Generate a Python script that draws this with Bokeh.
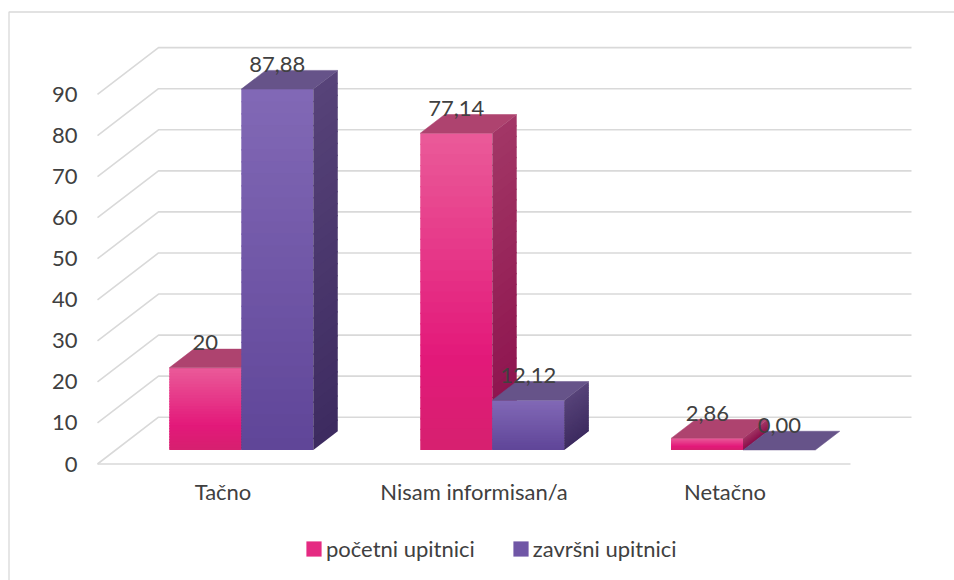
from bokeh.plotting import figure
from bokeh.models import Range1d, Legend, LegendItem
from bokeh.embed import file_html
from bokeh.resources import INLINE
from bokeh.core.properties import value

# ---------------- data ----------------
categories = ["Tačno", "Nisam informisan/a", "Netačno"]
series_names = ["početni upitnici", "završni upitnici"]
pocetni = [20.0, 77.14, 2.86]
zavrsni = [87.88, 12.12, 0.00]
pocetni_labels = ["20", "77,14", "2,86"]
zavrsni_labels = ["87,88", "12,12", "0,00"]
y_ticks = [0, 10, 20, 30, 40, 50, 60, 70, 80, 90]

# ---------------- styling / projection ----------------
FONT = "Lato"
TXT = "#404040"
GRID = "#d9d9d9"
PX_X = 251.0           # px per category (front plane)
PX_V = 4.106           # px per value unit
X0_PAGE, Y0_PAGE = 97.0, 463.5   # page position of (x=0, v=0) at the front
DX = 61.0 / PX_X       # x shift (category units) for full depth
DY = 46.8 / PX_V       # y shift (value units) for full depth
Z0, Z1 = 0.30, 0.70    # bar depth position
BW = 0.287             # bar width (category units)
NSTRIP = 30
OVL = 1.2 / PX_V       # strip overlap to hide seams

def hex2rgb(h):
    h = h.lstrip("#")
    return [int(h[i:i + 2], 16) for i in (0, 2, 4)]

def grad(stops, t):
    for (p0, c0), (p1, c1) in zip(stops[:-1], stops[1:]):
        if t <= p1:
            f = (t - p0) / (p1 - p0) if p1 > p0 else 0
            a, b = hex2rgb(c0), hex2rgb(c1)
            return "#%02x%02x%02x" % tuple(int(round(a[k] + (b[k] - a[k]) * f)) for k in range(3))
    return stops[-1][1]

styles = [
    dict(front=[(0, "#ea5b99"), (0.7, "#e3197a"), (1, "#d6206f")],
         side=[(0, "#a23766"), (1, "#8b0f4b")], top="#ae436f", offset=-1),
    dict(front=[(0, "#8269b6"), (1, "#5f4598")],
         side=[(0, "#574379"), (1, "#3d2b60")], top="#665389", offset=0),
]

def xd(page_x):
    return (page_x - X0_PAGE) / PX_X

def vd(page_y):
    return (Y0_PAGE - page_y) / PX_V

# canvas covers the page (0, 0) .. (954, 580); frame = whole canvas
p = figure(width=954, height=580, output_backend="svg", toolbar_location=None,
           min_border=0, x_axis_location=None, y_axis_location=None,
           x_range=Range1d(xd(0), xd(954)), y_range=Range1d(vd(580), vd(0)))
p.outline_line_color = None
p.xgrid.visible = False
p.ygrid.visible = False
p.background_fill_color = "white"
p.border_fill_color = "white"

# chart area border (left and top)
p.line([xd(8.5), xd(8.5), xd(954)], [vd(580), vd(11.5), vd(11.5)], line_color=GRID, line_width=1.3)

# ---------------- walls (gridlines) ----------------
gx, gy = [], []
for v in y_ticks:
    gx.append([0, DX, len(categories) + DX])
    gy.append([v, v + DY, v + DY])
p.multi_line(gx, gy, line_color=GRID, line_width=1.6)
# floor front edge (category axis line)
p.line([0, len(categories)], [0, 0], line_color=GRID, line_width=1.6)

# value axis labels
p.text(x=[xd(77)] * len(y_ticks), y=y_ticks, text=[str(t) for t in y_ticks],
       text_align="right", text_baseline="middle",
       text_font=value(FONT), text_font_size="22px", text_color=TXT)

# category labels
p.text(x=[i + 0.5 for i in range(len(categories))], y=[vd(491)] * len(categories), text=categories,
       text_align="center", text_baseline="middle",
       text_font=value(FONT), text_font_size="22px", text_color=TXT)

# ---------------- bars ----------------
legend_items = []
for s, (vals, labels, st) in enumerate(zip([pocetni, zavrsni], [pocetni_labels, zavrsni_labels], styles)):
    fl, fr, fb, ft, fc = [], [], [], [], []
    sx, sy, sc = [], [], []
    tx, ty = [], []
    lx, ly = [], []
    for i, v in enumerate(vals):
        c = i + 0.5
        x0 = c - BW if st["offset"] < 0 else c
        x1 = x0 + BW
        for k in range(NSTRIP):
            a = v * (1 - k / NSTRIP)
            b = v * (1 - (k + 1) / NSTRIP)
            if k < NSTRIP - 1:
                b = max(b - OVL, 0)
            col = grad(st["front"], (k + 0.5) / NSTRIP)
            fl.append(x0 + DX * Z0); fr.append(x1 + DX * Z0)
            ft.append(a + DY * Z0); fb.append(b + DY * Z0); fc.append(col)
            sx.append([x1 + DX * Z0, x1 + DX * Z1, x1 + DX * Z1, x1 + DX * Z0])
            sy.append([b + DY * Z0, b + DY * Z1, a + DY * Z1, a + DY * Z0])
            sc.append(grad(st["side"], (k + 0.5) / NSTRIP))
        tx.append([x0 + DX * Z0, x1 + DX * Z0, x1 + DX * Z1, x0 + DX * Z1])
        ty.append([v + DY * Z0, v + DY * Z0, v + DY * Z1, v + DY * Z1])
        lx.append((x0 + x1) / 2 + DX * Z0)
        ly.append(v + DY * Z1 + 1.5)
    fr_r = p.quad(left=fl, right=fr, top=ft, bottom=fb, fill_color=fc, line_color=None)
    p.patches(tx, ty, fill_color=st["top"], line_color=st["top"], line_width=0.5)
    p.patches(sx, sy, fill_color=sc, line_color=None)
    p.text(x=lx, y=ly, text=labels, text_align="center", text_baseline="alphabetic",
           text_font=value(FONT), text_font_size="22px", text_color=TXT)
    legend_items.append(LegendItem(label=series_names[s], renderers=[fr_r], index=NSTRIP // 2))

legend = Legend(items=legend_items, orientation="horizontal", location=(304, 18),
                glyph_width=19, glyph_height=19, label_standoff=3, spacing=36,
                border_line_color=None, background_fill_alpha=0, padding=0, margin=0,
                label_text_font=FONT, label_text_font_size="22px", label_text_color=TXT)
p.add_layout(legend)

open("out.html", "w").write(file_html(p, INLINE))
